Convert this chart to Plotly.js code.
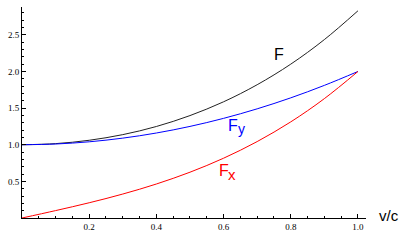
<!DOCTYPE html>
<html>
<head>
<meta charset="utf-8">
<script src="https://cdn.plot.ly/plotly-3.0.1.min.js"></script>
<style>html,body{margin:0;padding:0;background:#fff;}#chart{width:408px;height:240px;}</style>
</head>
<body>
<div id="chart"></div>
<script>
// v/c values
var v = [0, 0.1, 0.2, 0.3, 0.4, 0.5, 0.6, 0.7, 0.8, 0.9, 1.0];
// series
var F  = [1.0, 1.015, 1.061, 1.138, 1.249, 1.398, 1.586, 1.819, 2.100, 2.435, 2.828];
var Fy = [1.0, 1.010, 1.040, 1.090, 1.160, 1.250, 1.360, 1.490, 1.640, 1.810, 2.000];
var Fx = [0.0, 0.101, 0.208, 0.327, 0.464, 0.625, 0.816, 1.043, 1.312, 1.629, 2.000];
var xTicks = [0.2, 0.4, 0.6, 0.8, 1.0];
var xTickText = ["0.2", "0.4", "0.6", "0.8", "1.0"];
var yTicks = [0.5, 1.0, 1.5, 2.0, 2.5];
var yTickText = ["0.5", "1.0", "1.5", "2.0", "2.5"];

var traces = [
  {x: v, y: F, mode: 'lines', line: {color: '#222222', width: 1, shape: 'spline'}, name: 'F'},
  {x: v, y: Fy, mode: 'lines', line: {color: '#0000ff', width: 1, shape: 'spline'}, name: 'Fy'},
  {x: v, y: Fx, mode: 'lines', line: {color: '#ff0000', width: 1, shape: 'spline'}, name: 'Fx'}
];

var tickFont = {family: '"Liberation Serif", "Times New Roman", serif', size: 9, color: '#000'};
var sans = '"Liberation Sans", Arial, sans-serif';

function lab(x, y, text, size, color) {
  return {x: x, y: y, xref: 'x', yref: 'y', text: text, showarrow: false,
          font: {family: sans, size: size, color: color}, xanchor: 'center', yanchor: 'middle'};
}

var layout = {
  width: 408, height: 240,
  margin: {l: 22, r: 42, t: 7, b: 22, pad: 0},
  paper_bgcolor: '#fff', plot_bgcolor: '#fff',
  showlegend: false,
  xaxis: {
    range: [0, 1.024], showgrid: false, zeroline: false,
    showline: true, linecolor: '#000', linewidth: 1,
    tickmode: 'array', tickvals: xTicks, ticktext: xTickText,
    ticks: 'inside', ticklen: 4, tickcolor: '#000', tickwidth: 1,
    tickfont: tickFont,
    minor: {tickmode: 'linear', tick0: 0, dtick: 0.05, ticks: 'inside', ticklen: 2, tickcolor: '#000', showgrid: false}
  },
  yaxis: {
    range: [0, 2.88], showgrid: false, zeroline: false,
    showline: true, linecolor: '#000', linewidth: 1,
    tickmode: 'array', tickvals: yTicks, ticktext: yTickText,
    ticks: 'inside', ticklen: 4, tickcolor: '#000', tickwidth: 1,
    tickfont: tickFont,
    minor: {tickmode: 'linear', tick0: 0, dtick: 0.1, ticks: 'inside', ticklen: 2, tickcolor: '#000', showgrid: false}
  },
  annotations: [
    lab(0.765, 2.237, 'F', 16, '#000'),
    lab(0.6288, 1.259, 'F', 16, '#0000ff'),
    lab(0.6525, 1.213, 'y', 14, '#0000ff'),
    lab(0.6014, 0.649, 'F', 16, '#ff0000'),
    lab(0.6258, 0.597, 'x', 15, '#ff0000'),
    {x: 1.068, y: 0.034, xref: 'paper', yref: 'y', text: 'v/c', showarrow: false,
     font: {family: sans, size: 15, color: '#000'}, xanchor: 'center', yanchor: 'middle'}
  ]
};

Plotly.newPlot('chart', traces, layout, {displayModeBar: false, staticPlot: true});
</script>
</body>
</html>
